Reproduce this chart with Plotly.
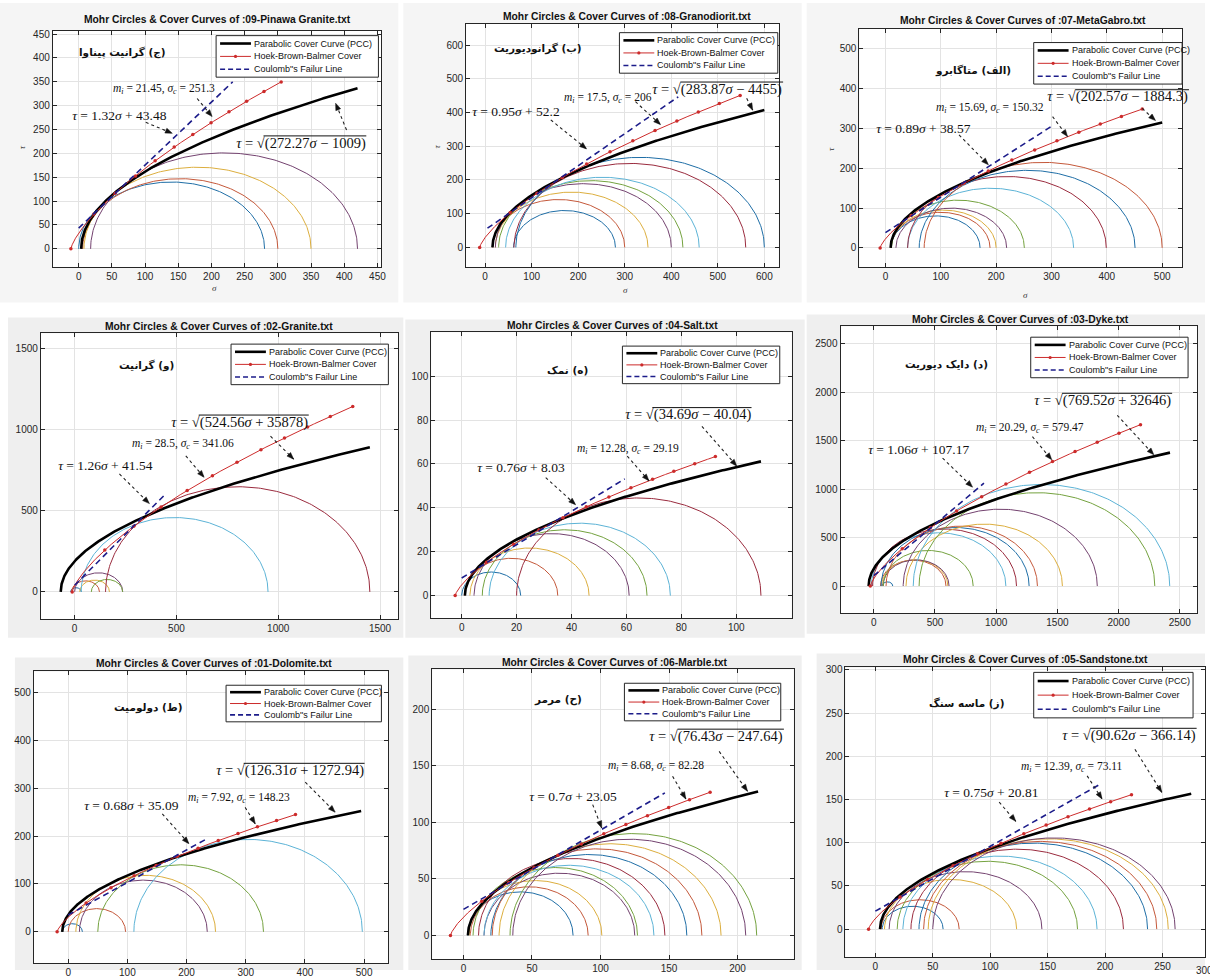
import numpy as np
import plotly.graph_objects as go

W, H = 1210, 978

# ---------------- data ----------------
file_names = ["09-Pinawa Granite", "08-Granodiorit", "07-MetaGabro",
              "02-Granite", "04-Salt", "03-Dyke",
              "01-Dolomite", "06-Marble", "05-Sandstone"]
rock_names = ["(ج) گرانیت پیناوا", "(ب) گرانودیوریت", "(الف) متاگابرو",
              "(و) گرانیت", "(ه) نمک", "(د) دایک دیوریت",
              "(ط) دولومیت", "(ح) مرمر", "(ز) ماسه سنگ"]

# Parabolic cover curve  tau = sqrt(a*sigma + b)
pcc_a = [272.27, 283.87, 202.57, 524.56, 34.69, 769.52, 126.31, 76.43, 90.62]
pcc_b = [-1009, -4455, -1884.3, 35878, -40.04, 32646, 1272.94, -247.64, -366.14]
pcc_end = [420, 600, 500, 1450, 109, 2420, 495, 215, 275]

# Coulomb line  tau = slope*sigma + c
coul_slope = [1.32, 0.95, 0.89, 1.26, 0.76, 1.06, 0.68, 0.7, 0.75]
coul_c = [43.48, 52.2, 38.57, 41.54, 8.03, 107.17, 35.09, 23.05, 20.81]
coul_start = [0, 5, 0, 0, 0, 0, 0, 0, 0]
coul_end = [232, 415, 300, 450, 59.4, 900, 234, 147, 195]

# Hoek-Brown (Balmer) cover
hb_mi = [21.45, 17.5, 15.69, 28.5, 12.28, 20.29, 7.92, 8.68, 12.39]
hb_sc = [251.3, 206, 150.32, 341.06, 29.19, 579.47, 148.23, 82.28, 73.11]
hb_end = [305, 548, 464, 1366, 92.4, 2179, 384, 180, 223]

# Mohr circles (sigma3, sigma1)
circ_s3 = [
    [0, 6, 8, 18],
    [61, 16, 22, 22, 29, 44, 62, 66],
    [10, 10, 10, 19, 11, 40, 40, 61, 70],
    [-20, -15, 25, 0, 82, 32, 152],
    [0, 1, 3, 4.5, 7.5, 10, 20],
    [68, 55, 65, 75, 78, -20, -10, 60, 100, 263, 240, 370, 322],
    [-10, 0, 13, 19, 50, 111],
    [3, 5, 4, 15, 7, 15, 11, 20, 21, 26, 36, 34],
    [6, 5, 8, 12, 19, 24, 31, 38, 42, 46, 50],
]
circ_s1 = [
    [280, 300, 350, 420],
    [280, 300, 350, 400, 425, 460, 560, 600],
    [171, 189, 200, 219, 251, 340, 399, 451, 500],
    [33, 122, 171, 236, 236, 950, 1450],
    [21.5, 35, 46.4, 61, 67.5, 76, 109],
    [155, 590, 605, 615, 812, 1079, 1166, 1269, 1337, 1541, 1826, 2296, 2418],
    [24, 97, 249, 235, 330, 497],
    [80, 91, 101, 125, 127, 139, 147, 163, 174, 188, 206, 214],
    [59, 73, 123, 145, 176, 193, 216, 237, 245, 255, 261],
]

tick_step = [50, 100, 100, 500, 20, 500, 100, 50, 50]
tick_max_x = [450, 600, 500, 1500, 100, 2500, 500, 200, 250]
tick_max_y = [450, 600, 500, 1500, 100, 2500, 500, 200, 300]

# ---------------- layout (pixel boxes of each panel) ----------------
panel_bg = [(0, 0, 400, 303), (405, 0, 805, 303), (810, 0, 1210, 303),
            (8, 318, 405, 642), (407, 320, 808, 642), (810, 315, 1210, 638),
            (15, 662, 405, 978), (410, 660, 805, 978), (820, 658, 1210, 978)]
bg_col = ["#f5f5f5"] * 3 + ["#efefef"] * 6
axbox = [(53, 28, 383, 267), (468, 21, 782, 267), (863, 26, 1187, 267),
         (41, 334, 400, 623), (433, 333, 795, 622), (844, 327, 1202, 617),
         (34, 676, 390, 971), (434, 674, 797, 967), (849, 672, 1210, 965)]
xr = [(-39, 456), (-41, 631), (-47, 536), (-166, 1590), (-11.1, 120.2),
      (-272, 2641), (-58, 541), (-22.8, 241), (-26, 287)]
yr = [(-38, 457), (-58, 663), (-48, 551), (-167, 1596), (-10.2, 120),
      (-279, 2680), (-65.3, 544), (-20.9, 235), (-32.4, 302.7)]
title_px = [(218, 17), (630, 14), (1027, 18), (220, 327), (615, 326),
            (1025, 320), (215, 668), (617, 667), (1030, 664)]
legend_px = [(217, 33, 380, 75), (622, 30, 781, 71), (1038, 40, 1187, 82),
             (232, 345, 390, 386), (625, 347, 783, 385), (1035, 338, 1193, 379),
             (227, 690, 383, 727), (627, 688, 784, 726), (1038, 677, 1198, 723)]
coul_pos = [(61, 280), (66, 403), (67, 300.7), (147, 782.5), (21.5, 58.3),
            (359, 1405), (105.6, 264), (79.7, 123), (100.6, 157.5)]
mi_pos = [(128.5, 334.5), (264, 442), (187.5, 350.5), (530, 910.6), (60.3, 66.9),
          (1269, 1626), (288, 279), (140.5, 149.4), (170.8, 187.6)]
sqrt_pos = [(333.5, 221.6), (498, 469), (419, 379.6), (807, 1047), (82.1, 82.4),
            (1867, 1915), (373.6, 337), (184.2, 175.9), (220.5, 224)]
label_pos = [(66, 412), (113, 590), (157.5, 446), (350.6, 1398), (38.5, 103),
             (590, 2282), (136.5, 469), (68.8, 208.2), (79, 261)]
arrows = [
    [((101, 265), (141, 242)), ((178.5, 315), (201, 277)), ((403.5, 249), (387, 305))],
    [((141, 378), (218, 292)), ((323, 432), (377, 364)), ((562, 442), (575, 407))],
    [((133, 284), (186, 209)), ((302, 330), (329, 280)), ((464, 350.5), (488, 320))],
    [((220, 728), (367, 545)), ((546, 839), (636, 707)), ((962, 961), (1076, 819))],
    [((30.6, 53.8), (41.5, 41.4)), ((60.3, 63.6), (68.2, 52.3)), ((87.5, 77.1), (100.2, 59))],
    [((562, 1320), (807, 1020)), ((1296, 1541), (1454, 1303)), ((1989, 1762), (2288, 1354))],
    [((159, 246.5), (204, 184)), ((299, 260), (316, 225.7)), ((400.6, 312.5), (451, 250))],
    [((94.3, 115.6), (100.9, 95)), ((152.6, 140.6), (162.3, 120.6)), ((186.6, 162.6), (207.3, 127.4))],
    [((107.8, 146.8), (122.3, 124.7)), ((184.4, 177.3), (197.4, 150.6)), ((226, 208), (249.4, 158.2))],
]
axis_titles_px = [((215, 288), (22, 146)), ((628, 290), (439, 145)), ((1030, 295), (835, 148))]

circle_colors = ["#1f6ea6", "#c4583a", "#dcae3e", "#73426f", "#74a23f", "#5cb3d6", "#9a2b3e"]
PCC_COL, HB_COL, CL_COL = "#000000", "#cc2b2b", "#1c1c8a"

SANS = "Liberation Sans, Arial, sans-serif"
SERIF = "Liberation Serif, Times New Roman, serif"
HS = "\u200a"  # hair space so that no text starts with an empty styled run


def to_px(i, sx, sy):
    L, T, R, B = axbox[i]
    x0, x1 = xr[i]
    y0, y1 = yr[i]
    return L + (sx - x0) / (x1 - x0) * (R - L), B - (sy - y0) / (y1 - y0) * (B - T)


def pxp(px, py):
    return px / W, 1 - py / H


EMW = {'.': 0.25, ' ': 0.25, '(': 0.333, ')': 0.333, '=': 0.564, '+': 0.564,
       '−': 0.564, 'τ': 0.44, 'σ': 0.5, '√': 0.55}


def text_w(s, fs):
    return sum(EMW.get(c, 0.5) for c in s) * fs


def paper_text(px, py, text, font, xanchor="center", angle=0):
    x, y = pxp(px, py)
    return dict(xref="paper", yref="paper", x=x, y=y, xanchor=xanchor, yanchor="middle",
                showarrow=False, text=text, font=font, textangle=angle)


fig = go.Figure()
shapes, annots = [], []
layout_axes = {}

# backgrounds
for i in range(9):
    x0, y0, x1, y1 = panel_bg[i]
    shapes.append(dict(type="rect", xref="paper", yref="paper", layer="below",
                       x0=x0 / W, x1=x1 / W, y0=1 - y1 / H, y1=1 - y0 / H,
                       fillcolor=bg_col[i], line=dict(width=0)))
for i in range(9):
    L, T, R, B = axbox[i]
    shapes.append(dict(type="rect", xref="paper", yref="paper", layer="below",
                       x0=L / W, x1=min(R, W) / W, y0=1 - B / H, y1=1 - T / H,
                       fillcolor="white", line=dict(width=0)))

th = np.linspace(0, np.pi, 181)
for i in range(9):
    k = "" if i == 0 else str(i + 1)
    xa, ya = "x" + k, "y" + k
    L, T, R, B = axbox[i]
    st = tick_step[i]
    common = dict(showgrid=True, gridcolor="#e3e3e3", gridwidth=1, zeroline=False,
                  showline=True, linecolor="#262626", linewidth=1, mirror="ticks",
                  ticks="inside", ticklen=4, tickcolor="#262626",
                  tickfont=dict(family=SANS, size=10, color="#262626"))
    layout_axes["xaxis" + k] = dict(domain=[L / W, min(R, W) / W], range=list(xr[i]), anchor=ya,
                                    tickvals=list(np.arange(0, tick_max_x[i] + 1, st)), **common)
    layout_axes["yaxis" + k] = dict(domain=[1 - B / H, 1 - T / H], range=list(yr[i]), anchor=xa,
                                    tickvals=list(np.arange(0, tick_max_y[i] + 1, st)), **common)

    # Mohr circles
    for j, (s3, s1) in enumerate(zip(circ_s3[i], circ_s1[i])):
        c, r = (s1 + s3) / 2, (s1 - s3) / 2
        fig.add_trace(go.Scatter(x=c + r * np.cos(th), y=r * np.sin(th), mode="lines",
                                 line=dict(color=circle_colors[j % 7], width=1),
                                 xaxis=xa, yaxis=ya, showlegend=False, hoverinfo="skip"))
    # PCC
    a, b = pcc_a[i], pcc_b[i]
    s0 = -b / a
    t = np.linspace(0, 1, 300)
    sg = s0 + (pcc_end[i] - s0) * t ** 2
    fig.add_trace(go.Scatter(x=sg, y=np.sqrt(np.maximum(a * sg + b, 0)), mode="lines",
                             line=dict(color=PCC_COL, width=2.6), xaxis=xa, yaxis=ya,
                             showlegend=False, hoverinfo="skip"))
    # Hoek-Brown-Balmer
    mi, sc = hb_mi[i], hb_sc[i]
    qd = np.linspace(1e-4, 60, 20000)
    kd = 1 + mi / (2 * qd)
    sn_d = sc * (qd ** 2 - 1) / mi + sc * qd / (kd + 1)
    q_end = np.interp(hb_end[i], sn_d, qd)
    q = np.linspace(1e-4, q_end, 400)
    kk = 1 + mi / (2 * q)
    sn = sc * (q ** 2 - 1) / mi + sc * q / (kk + 1)
    tau = sc * q * np.sqrt(kk) / (kk + 1)
    fig.add_trace(go.Scatter(x=sn, y=tau, mode="lines", line=dict(color=HB_COL, width=1),
                             xaxis=xa, yaxis=ya, showlegend=False, hoverinfo="skip"))
    s3m = np.linspace(-sc / mi, sc * (q_end ** 2 - 1) / mi, 12)
    qm = np.sqrt(np.maximum(mi * s3m / sc + 1, 1e-8))
    km = 1 + mi / (2 * qm)
    fig.add_trace(go.Scatter(x=s3m + sc * qm / (km + 1), y=sc * qm * np.sqrt(km) / (km + 1),
                             mode="markers", marker=dict(color=HB_COL, size=3.5),
                             xaxis=xa, yaxis=ya, showlegend=False, hoverinfo="skip"))
    # Coulomb
    cs = np.array([coul_start[i], coul_end[i]])
    fig.add_trace(go.Scatter(x=cs, y=coul_slope[i] * cs + coul_c[i], mode="lines",
                             line=dict(color=CL_COL, width=1.6, dash="6px,4px"),
                             xaxis=xa, yaxis=ya, showlegend=False, hoverinfo="skip"))

    # title
    annots.append(paper_text(*title_px[i],
                             "Mohr Circles & Cover Curves of :" + file_names[i] + ".txt",
                             dict(family=SANS, size=10.3, color="#111111", weight="bold")))
    # rock label (Persian)
    lx, ly = label_pos[i]
    annots.append(dict(xref=xa, yref=ya, x=lx, y=ly, showarrow=False,
                       text="\u200f" + rock_names[i] + "\u200f",
                       font=dict(family="DejaVu Sans", size=10.5, color="#111111", weight="bold")))
    # equations
    cx, cy = coul_pos[i]
    annots.append(dict(xref=xa, yref=ya, x=cx, y=cy, showarrow=False,
                       text=f"{HS}<i>τ</i> = {coul_slope[i]:g}<i>σ</i> + {coul_c[i]:g}",
                       font=dict(family=SERIF, size=13.5, color="#111111")))
    mx, my = mi_pos[i]
    annots.append(dict(xref=xa, yref=ya, x=mx, y=my, showarrow=False,
                       text=f"{HS}<i>m<sub>i</sub></i> = {mi:g}, <i>σ<sub>c</sub></i> = {sc:g}",
                       font=dict(family=SERIF, size=11.5, color="#111111")))
    sign = "+" if b > 0 else "−"
    fs = 14.5
    qx, qy = sqrt_pos[i]
    annots.append(dict(xref=xa, yref=ya, x=qx, y=qy, showarrow=False,
                       text=f"{HS}<i>τ</i> = √({a:g}<i>σ</i> {sign} {abs(b):g})",
                       font=dict(family=SERIF, size=fs, color="#111111")))
    full = f"τ = √({a:g}σ {sign} {abs(b):g})"
    tw = text_w(full, fs)
    off = text_w("τ = √", fs)
    pcx, pcy = to_px(i, qx, qy)
    ox0, oy = pxp(pcx - tw / 2 + off - 1, pcy - 0.5 * fs)
    ox1, _ = pxp(pcx + tw / 2 + 1, pcy)
    shapes.append(dict(type="line", xref="paper", yref="paper", x0=ox0, x1=ox1, y0=oy, y1=oy,
                       line=dict(color="#111111", width=1)))
    # dotted arrows with filled heads
    for (tl, hd) in arrows[i]:
        shapes.append(dict(type="line", xref=xa, yref=ya, x0=tl[0], y0=tl[1], x1=hd[0], y1=hd[1],
                           line=dict(color="#222222", width=1.1, dash="dot")))
        hx, hy = to_px(i, *hd)
        tx_, ty_ = to_px(i, *tl)
        d = np.hypot(tx_ - hx, ty_ - hy)
        ux, uy = (tx_ - hx) / d, (ty_ - hy) / d
        bx, by = hx + ux * 7, hy + uy * 7
        p1 = pxp(bx - uy * 2.6, by + ux * 2.6)
        p2 = pxp(bx + uy * 2.6, by - ux * 2.6)
        p0 = pxp(hx, hy)
        shapes.append(dict(type="path", xref="paper", yref="paper",
                           path=f"M{p0[0]},{p0[1]} L{p1[0]},{p1[1]} L{p2[0]},{p2[1]} Z",
                           fillcolor="#111111", line=dict(color="#111111", width=0.5)))
    # legend (drawn)
    bl, bt, br, bb = legend_px[i]
    x0p, y0p = pxp(bl, bb)
    x1p, y1p = pxp(br, bt)
    shapes.append(dict(type="rect", xref="paper", yref="paper", x0=x0p, x1=x1p, y0=y0p, y1=y1p,
                       fillcolor="white", line=dict(color="#262626", width=1)))
    hgt = bb - bt
    rows = [bt + hgt * f for f in (0.19, 0.5, 0.81)]
    items = [("Parabolic Cover Curve (PCC)", PCC_COL, 2.6, "solid"),
             ("Hoek-Brown-Balmer Cover", HB_COL, 1, "solid"),
             ("Coulomb\"s Failur Line", CL_COL, 1.6, "5px,3px")]
    for (txt, col, lw, dash), ry in zip(items, rows):
        a0, ry_p = pxp(bl + 4, ry)
        a1, _ = pxp(bl + 35, ry)
        shapes.append(dict(type="line", xref="paper", yref="paper", x0=a0, x1=a1, y0=ry_p, y1=ry_p,
                           line=dict(color=col, width=lw, dash=dash)))
        annots.append(paper_text(bl + 36, ry, txt, dict(family=SANS, size=9, color="#111111"),
                                 xanchor="left"))
    mxp, myp = pxp(bl + 19.5, rows[1])
    shapes.append(dict(type="circle", xref="paper", yref="paper",
                       x0=mxp - 1.6 / W, x1=mxp + 1.6 / W, y0=myp - 1.6 / H, y1=myp + 1.6 / H,
                       fillcolor=HB_COL, line=dict(width=0)))

# axis titles for the top row
for (sxp, syp), (txp, typ) in axis_titles_px:
    annots.append(paper_text(sxp, syp, "σ", dict(family=SERIF, size=9, color="#333333",
                                                  style="italic")))
    annots.append(paper_text(txp, typ, "τ", dict(family=SERIF, size=9, color="#333333",
                                                  style="italic"), angle=-90))

# partly visible 300 tick label at the right edge of the last panel
annots.append(paper_text(1199, 978, "300", dict(family=SANS, size=10, color="#262626"),
                         xanchor="left"))

fig.update_layout(width=W, height=H, margin=dict(l=0, r=0, t=0, b=0),
                  paper_bgcolor="white", plot_bgcolor="rgba(0,0,0,0)",
                  showlegend=False, shapes=shapes, annotations=annots, **layout_axes)
fig.write_html("out.html")
